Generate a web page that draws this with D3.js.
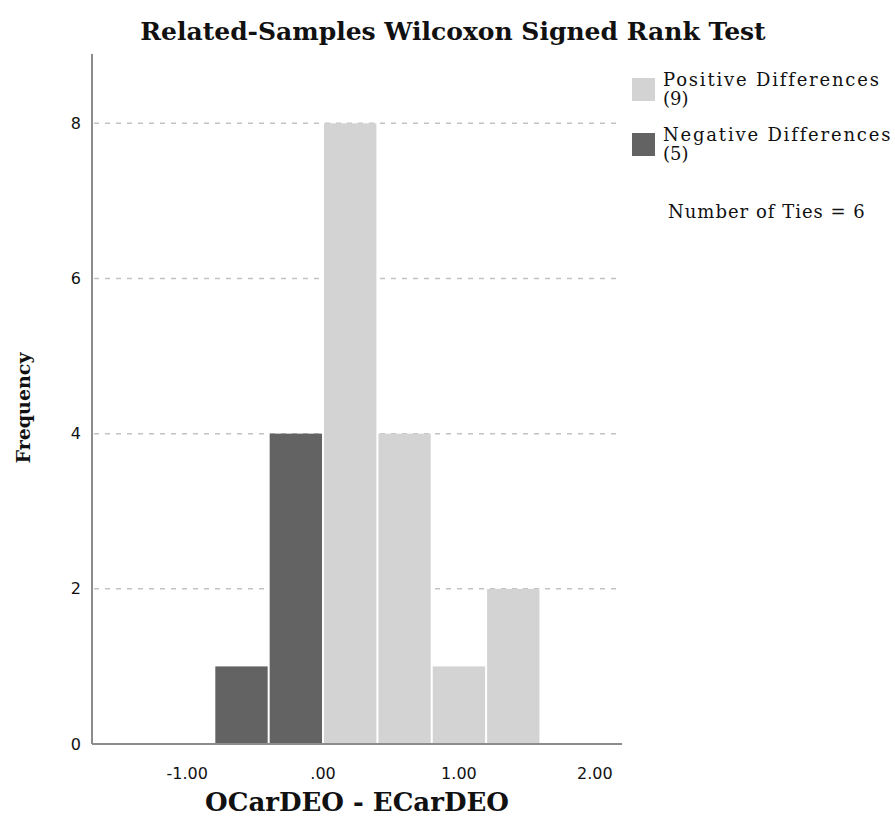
<!DOCTYPE html>
<html>
<head>
<meta charset="utf-8">
<script src="https://cdn.jsdelivr.net/npm/d3@7"></script>
<style>
  body { margin: 0; background: #fff; }
  text { fill: #111; }
</style>
</head>
<body>
<script>
// Chart data
var binStarts = [-0.8, -0.4, 0.0, 0.4, 0.8, 1.2];
var binWidth = 0.4;
var counts = [1, 4, 8, 4, 1, 2];
var signs = ["neg", "neg", "pos", "pos", "pos", "pos"];
var xTicks = [-1, 0, 1, 2];
var xTickLabels = ["-1.00", ".00", "1.00", "2.00"];
var yTicks = [0, 2, 4, 6, 8];
var legendLabels = [["Positive Differences", "(9)"], ["Negative Differences", "(5)"]];
var tiesText = "Number of Ties = 6";

var width = 895, height = 829;
var colors = { pos: "#d3d3d3", neg: "#636363" };

var svg = d3.select("body").append("svg")
  .attr("width", width)
  .attr("height", height);

// Scales
var x = d3.scaleLinear().domain([-1.7, 2.2]).range([92, 622]);
var y = d3.scaleLinear().domain([0, 8.88]).range([744, 55]);

// Grid lines
svg.selectAll(".grid")
  .data(yTicks.slice(1))
  .enter().append("line")
  .attr("x1", 94).attr("x2", 618)
  .attr("y1", function(d) { return y(d); })
  .attr("y2", function(d) { return y(d); })
  .attr("stroke", "#c2c2c2")
  .attr("stroke-width", 1.5)
  .attr("stroke-dasharray", "5,6");

// Bars
svg.selectAll(".bar")
  .data(counts)
  .enter().append("rect")
  .attr("x", function(d, i) { return x(binStarts[i]) + 1; })
  .attr("width", function(d, i) { return x(binStarts[i] + binWidth) - x(binStarts[i]) - 2; })
  .attr("y", function(d) { return y(d); })
  .attr("height", function(d) { return y(0) - y(d); })
  .attr("fill", function(d, i) { return colors[signs[i]]; });

// Axis lines
svg.append("line")
  .attr("x1", x.range()[0]).attr("x2", x.range()[0])
  .attr("y1", y.range()[1] - 1).attr("y2", y.range()[0])
  .attr("stroke", "#8c8c8c").attr("stroke-width", 2);
svg.append("line")
  .attr("x1", x.range()[0]).attr("x2", x.range()[1])
  .attr("y1", y.range()[0]).attr("y2", y.range()[0])
  .attr("stroke", "#8c8c8c").attr("stroke-width", 2);

// Tick labels
svg.selectAll(".xlab")
  .data(xTicks)
  .enter().append("text")
  .attr("x", function(d) { return x(d); })
  .attr("y", 779)
  .attr("text-anchor", "middle")
  .style("font-family", "DejaVu Sans")
  .style("font-size", "16px")
  .text(function(d, i) { return xTickLabels[i]; });

svg.selectAll(".ylab")
  .data(yTicks)
  .enter().append("text")
  .attr("x", 81)
  .attr("y", function(d) { return y(d); })
  .attr("dy", "0.35em")
  .attr("text-anchor", "end")
  .style("font-family", "DejaVu Sans")
  .style("font-size", "16px")
  .text(function(d) { return d; });

// Titles
svg.append("text")
  .attr("x", 453).attr("y", 40)
  .attr("text-anchor", "middle")
  .style("font-family", "DejaVu Serif")
  .style("font-weight", "bold")
  .style("font-size", "25px")
  .text("Related-Samples Wilcoxon Signed Rank Test");

svg.append("text")
  .attr("x", 357).attr("y", 811)
  .attr("text-anchor", "middle")
  .style("font-family", "DejaVu Serif")
  .style("font-weight", "bold")
  .style("font-size", "26px")
  .text("OCarDEO - ECarDEO");

svg.append("text")
  .attr("transform", "translate(30,408) rotate(-90)")
  .attr("text-anchor", "middle")
  .style("font-family", "DejaVu Serif")
  .style("font-weight", "bold")
  .style("font-size", "19px")
  .text("Frequency");

// Legend
var legend = svg.selectAll(".legend")
  .data(legendLabels)
  .enter().append("g")
  .attr("transform", function(d, i) { return "translate(632," + (78 + i * 55) + ")"; });

legend.append("rect")
  .attr("width", 23).attr("height", 23)
  .attr("fill", function(d, i) { return i === 0 ? colors.pos : colors.neg; });

legend.append("text")
  .attr("x", 31).attr("y", 8)
  .style("font-family", "DejaVu Serif")
  .style("font-size", "18px")
  .style("letter-spacing", "1.8px")
  .text(function(d) { return d[0]; });

legend.append("text")
  .attr("x", 31).attr("y", 27)
  .style("font-family", "DejaVu Serif")
  .style("font-size", "18px")
  .text(function(d) { return d[1]; });

svg.append("text")
  .attr("x", 668).attr("y", 218)
  .style("font-family", "DejaVu Serif")
  .style("font-size", "18px")
  .style("letter-spacing", "1px")
  .text(tiesText);
</script>
</body>
</html>
